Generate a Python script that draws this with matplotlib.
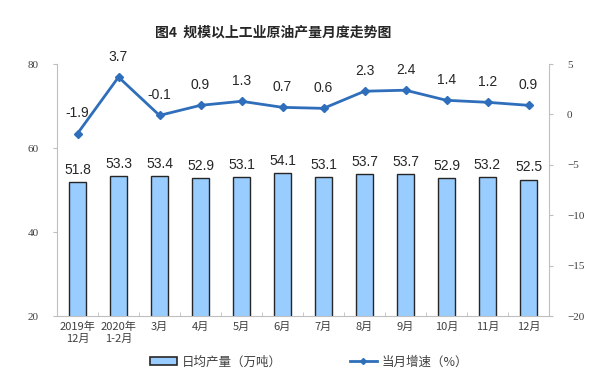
import numpy as np
import matplotlib
matplotlib.use("Agg")
import matplotlib.pyplot as plt
from matplotlib.patches import Patch
from matplotlib.lines import Line2D

plt.rcParams['font.family'] = ['Noto Sans CJK SC', 'DejaVu Sans']

months = ["2019年\n12月", "2020年\n1-2月", "3月", "4月", "5月", "6月",
          "7月", "8月", "9月", "10月", "11月", "12月"]
output = [51.8, 53.3, 53.4, 52.9, 53.1, 54.1, 53.1, 53.7, 53.7, 52.9, 53.2, 52.5]
growth = [-1.9, 3.7, -0.1, 0.9, 1.3, 0.7, 0.6, 2.3, 2.4, 1.4, 1.2, 0.9]

bar_color = "#99CCFF"
line_color = "#2F6EBA"
spine_color = "#BFBFBF"

fig = plt.figure(figsize=(6, 3.85), dpi=100)
ax = fig.add_axes([57/600, 1-316/385, 492/600, 252/385])
x = np.arange(len(months))

ax.bar(x, output, width=0.42, color=bar_color, edgecolor="#262626", linewidth=1.0, zorder=2)
for xi, v in zip(x, output):
    ax.text(xi, v + 1.2, f"{v:.1f}", ha="center", va="bottom", fontsize=10,
            family="Liberation Sans", color="#262626")
ax.set_ylim(20, 80)
ax.set_yticks([20, 40, 60, 80])
ax.set_xlim(-0.5, len(months) - 0.5)
ax.set_xticks(x)
ax.set_xticklabels(months, fontsize=8, color="#404040", linespacing=1.3)
ax.set_xticks(np.arange(-0.5, len(months), 1), minor=True)
ax.tick_params(axis="x", which="major", length=0, pad=4)
ax.tick_params(axis="x", which="minor", length=3, color=spine_color, direction="in")
ax.tick_params(axis="y", length=3, color=spine_color, labelsize=8, labelcolor="#404040", pad=10)
for lab in ax.get_yticklabels():
    lab.set_family("Liberation Serif")
for s in ["top", "right"]:
    ax.spines[s].set_visible(False)
ax.spines["left"].set_color(spine_color)
ax.spines["bottom"].set_color(spine_color)

ax2 = ax.twinx()
ax2.plot(x, growth, color=line_color, linewidth=2, marker="D", markersize=4, zorder=3)
for xi, v in zip(x, growth):
    ax2.text(xi, v + 1.3, f"{v:.1f}", ha="center", va="bottom", fontsize=10,
             family="Liberation Sans", color="#262626")
ax2.set_ylim(-20, 5)
ax2.set_yticks([-20, -15, -10, -5, 0, 5])
ax2.tick_params(axis="y", length=3, color=spine_color, labelsize=8, labelcolor="#404040", pad=10)
for lab in ax2.get_yticklabels():
    lab.set_family("Liberation Serif")
for s in ["top", "left", "bottom"]:
    ax2.spines[s].set_visible(False)
ax2.spines["right"].set_color(spine_color)

fig.text(273/600, 1-33/385, "图4  规模以上工业原油产量月度走势图", ha="center", va="center",
         fontsize=10, fontweight="bold", color="#262626")

handles = [Patch(facecolor=bar_color, edgecolor="#262626", linewidth=1.2),
           Line2D([0], [0], color=line_color, linewidth=2, marker="D", markersize=3)]
fig.legend(handles, ["日均产量（万吨）", "当月增速（%）"], loc="center",
           bbox_to_anchor=(0.515, 1-362/385), ncol=2, frameon=False, fontsize=9,
           handlelength=2.2, handleheight=0.6, handletextpad=0.4, columnspacing=5.4,
           labelcolor="#404040")

fig.savefig("out.png", dpi=100)
